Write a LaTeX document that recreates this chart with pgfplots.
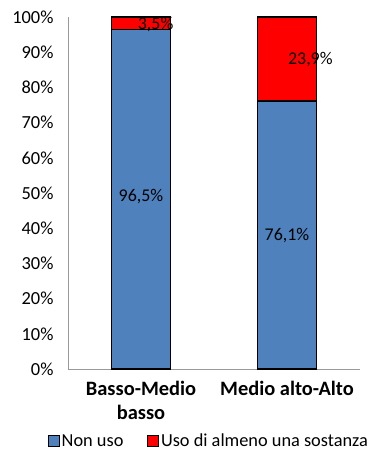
\documentclass[border=0pt]{standalone}
\usepackage{pgfplots}
\pgfplotsset{compat=1.18}
\usepackage{fontspec}
\setmainfont{Carlito}
\definecolor{cblue}{HTML}{4F81BD}
\definecolor{cred}{HTML}{FF0000}
\begin{document}
\begin{tikzpicture}
\begin{axis}[
  at={(0,0)}, anchor=south west,
  scale only axis, width=292bp, height=352bp,
  xmin=-0.5, xmax=1.5, ymin=0, ymax=100,
  axis x line*=bottom, axis y line*=left,
  axis line style={draw=gray!80, line width=1pt},
  major tick length=0pt,
  xtick={0,1},
  xticklabels={Basso-Medio\\basso, Medio alto-Alto},
  xticklabel style={font=\fontsize{20.5}{24}\selectfont\bfseries, align=center, yshift=-9bp},
  ytick={0,10,...,100},
  yticklabels={0\%,10\%,20\%,30\%,40\%,50\%,60\%,70\%,80\%,90\%,100\%},
  yticklabel style={font=\fontsize{18.5}{20}\selectfont, xshift=-11bp},
  legend style={at={(0.483,-0.205)}, anchor=center, draw=none, legend columns=2,
    font=\fontsize{18.4}{20}\selectfont, column sep=0bp, inner sep=0pt,
    /tikz/every even column/.append style={column sep=22bp}},
  legend image code/.code={\draw[#1, draw=black, line width=0.6pt] (0bp,-5.5bp) rectangle (11bp,5.5bp);},
  clip=false,
]
\addplot[ybar, bar width=59bp, bar shift=0pt, fill=cred, draw=black, line width=1.3pt, forget plot]
  coordinates {(0,100) (1,100)};
\addplot[ybar, bar width=59bp, bar shift=0pt, fill=cblue, draw=black, line width=1.3pt, forget plot]
  coordinates {(0,96.5) (1,76.1)};
\addlegendimage{fill=cblue}
\addlegendentry{Non uso}
\addlegendimage{fill=cred}
\addlegendentry{Uso di almeno una sostanza}
\addplot[only marks, mark=none, nodes near coords, point meta=explicit symbolic,
  every node near coord/.style={anchor=center, font=\fontsize{18}{20}\selectfont}, forget plot]
  table[meta=label] {
x y label
0 48.9 96,5\%
1 38.0 76,1\%
0.1 97.8 3,5\%
1.16 88.0 23,9\%
};
\end{axis}
\pgfresetboundingbox
\path (-68bp,-85bp) rectangle (310bp,369bp);
\end{tikzpicture}
\end{document}
